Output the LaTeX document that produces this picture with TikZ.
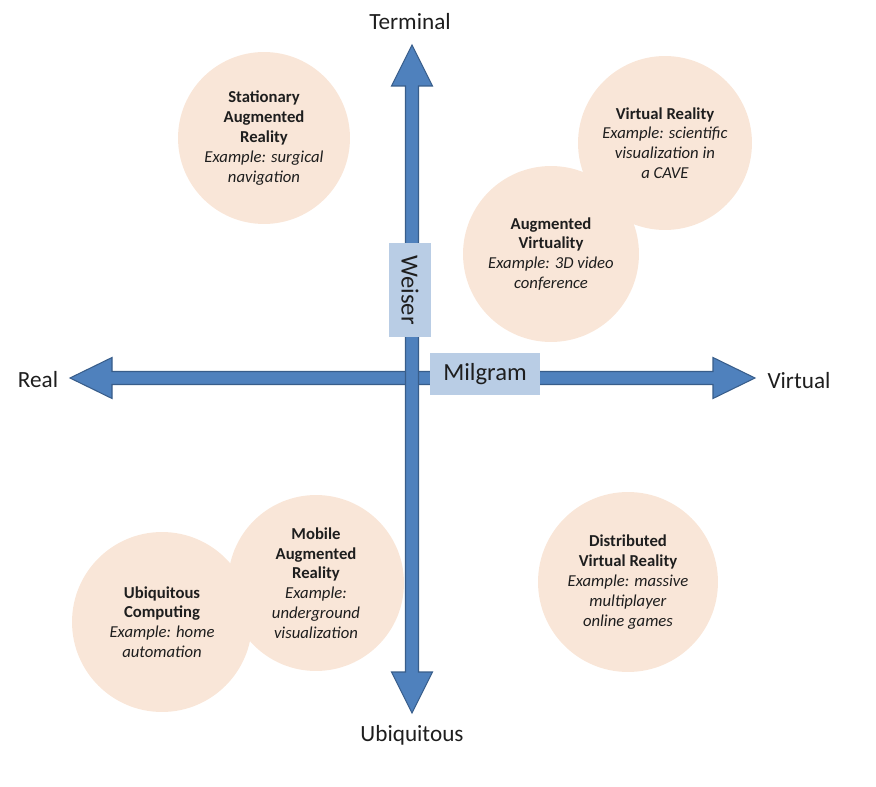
\documentclass[tikz,border=0pt]{standalone}
\usepackage{fontspec}
\setmainfont{Carlito}
\definecolor{bubblefill}{RGB}{249,230,216}
\definecolor{arrowblue}{RGB}{79,129,189}
\definecolor{arrowedge}{RGB}{56,93,138}
\definecolor{tagblue}{RGB}{185,205,229}
\definecolor{ink}{RGB}{30,30,30}
\begin{document}
\begin{tikzpicture}[x=0.02cm,y=-0.02cm,
  bubble/.style={circle, fill=bubblefill, inner sep=0pt, align=center,
    font=\fontsize{9.5}{11.3}\selectfont, text=ink},
  axisshape/.style={fill=arrowblue, draw=arrowedge, line width=0.6pt, line join=miter},
  axislabel/.style={font=\fontsize{13.2}{15}\selectfont, text=ink, inner sep=0pt},
  tag/.style={fill=tagblue, inner sep=0pt, font=\fontsize{14}{16}\selectfont, text=ink}]
\useasboundingbox (0,0) rectangle (876,787);

% bubbles
\node[bubble, minimum size=3.44cm] (sar) at (264,138)
  {\textbf{Stationary}\\\textbf{Augmented}\\\textbf{Reality}\\\textit{Example: surgical}\\\textit{navigation}};
\node[bubble, minimum size=3.48cm] (vr) at (665,143)
  {\textbf{Virtual Reality}\\\textit{Example: scientific}\\\textit{visualization in}\\\textit{a CAVE}};
\node[bubble, minimum size=3.52cm] (av) at (551,254)
  {\textbf{Augmented}\\\textbf{Virtuality}\\\textit{Example: 3D video}\\\textit{conference}};
\node[bubble, minimum size=3.6cm] (uc) at (162,622)
  {\textbf{Ubiquitous}\\\textbf{Computing}\\\textit{Example: home}\\\textit{automation}};
\node[bubble, minimum size=3.52cm] (mar) at (316,583)
  {\textbf{Mobile}\\\textbf{Augmented}\\\textbf{Reality}\\\textit{Example:}\\\textit{underground}\\\textit{visualization}};
\node[bubble, minimum size=3.6cm] (dvr) at (628,582)
  {\textbf{Distributed}\\\textbf{Virtual Reality}\\\textit{Example: massive}\\\textit{multiplayer}\\\textit{online games}};

% axes
\coordinate (lefttip) at (70,378);
\coordinate (righttip) at (755,378);
\coordinate (toptip) at (412,45);
\coordinate (bottomtip) at (412,713);
\draw[axisshape] (lefttip) -- (112,357.5) -- (112,371.5) -- (713,371.5) -- (713,357.5)
  -- (righttip) -- (713,398.5) -- (713,384.5) -- (112,384.5) -- (112,398.5) -- cycle;
\draw[axisshape] (toptip) -- (432.5,86) -- (418.5,86) -- (418.5,672) -- (432.5,672)
  -- (bottomtip) -- (391.5,672) -- (405.5,672) -- (405.5,86) -- (391.5,86) -- cycle;

% axis tags
\node[tag, rotate=-90, minimum width=1.88cm, minimum height=0.84cm] (weiser) at (410,290) {Weiser};
\node[tag, minimum width=2.2cm, minimum height=0.84cm] (milgram) at (485,374) {Milgram};

% axis labels
\node[axislabel] (terminal) at (410,22) {Terminal};
\node[axislabel] (real) at (38,380) {Real};
\node[axislabel] (virtual) at (799,381) {Virtual};
\node[axislabel] (ubiq) at (412,735) {Ubiquitous};
\end{tikzpicture}
\end{document}
